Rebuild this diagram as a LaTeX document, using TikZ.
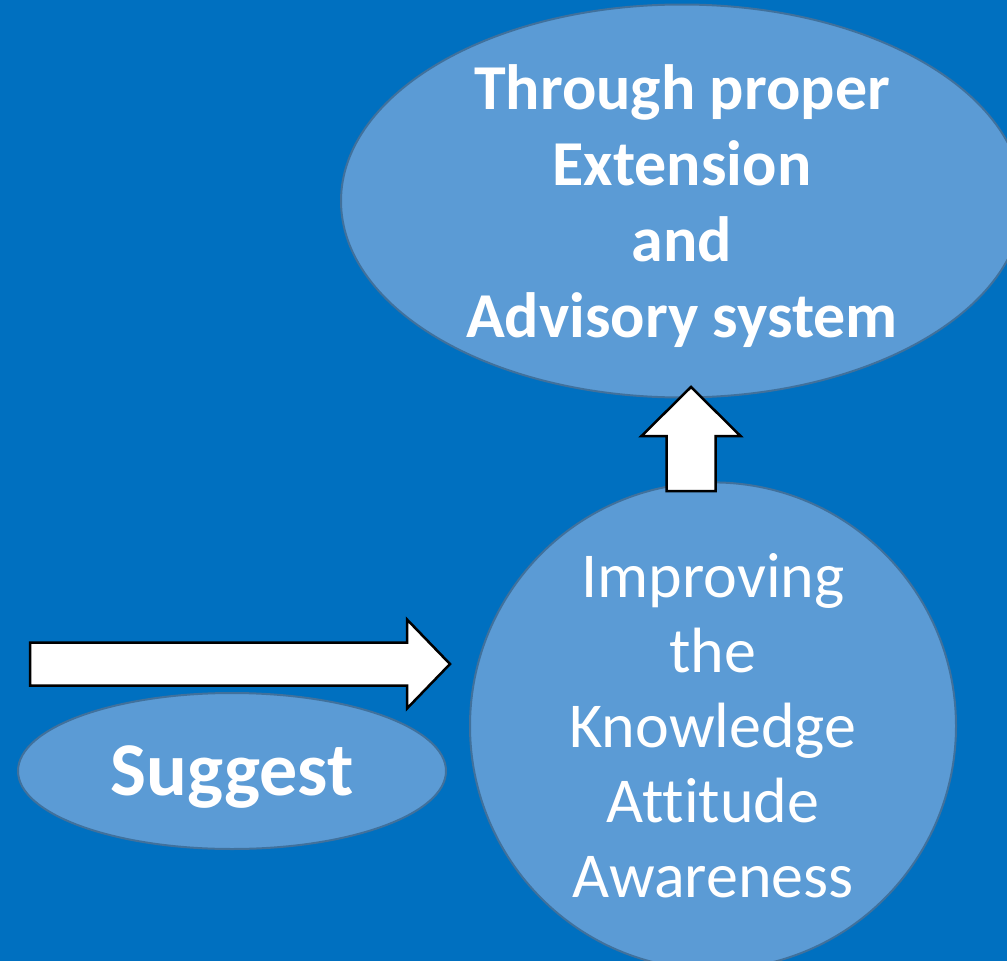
\documentclass[tikz,border=0pt]{standalone}
\usepackage{fontspec}
\setmainfont{Carlito}[Ligatures=NoCommon]
\usepackage{xcolor}
\usepackage{tikz}
\usetikzlibrary{shapes.geometric}

\definecolor{sheet}{HTML}{0070C0}
\definecolor{bubblefill}{HTML}{5B9BD5}
\definecolor{bubblerim}{HTML}{41719C}

\begin{document}
\begin{tikzpicture}[x=1pt,y=-1pt,
 bubble/.style={ellipse,draw=bubblerim,line width=2pt,fill=bubblefill,text=white,inner sep=0pt,align=center},
 blockarrow/.style={draw=black,line width=2.5pt,fill=white,line join=miter}]

\fill[sheet] (0,0) rectangle (1007,961);
\useasboundingbox (0,0) rectangle (1007,961);

\node[bubble,minimum width=682,minimum height=393,text depth=0pt,font=\fontsize{64}{76}\selectfont\bfseries] (through) at (682,201)
 {Through proper\\Extension\\and\\Advisory system};
\node[bubble,minimum width=486,minimum height=468,font=\fontsize{64}{75}\selectfont] (improving) at (713,726)
 {Improving\\the\\Knowledge\\Attitude\\Awareness};
\node[bubble,minimum width=428,minimum height=156,text depth=0pt,font=\fontsize{76}{90}\selectfont\bfseries] (suggest) at (232,771)
 {Suggest};

\coordinate (tail) at (30,664);
\coordinate (lift) at (691,491);

\begin{scope}[shift={(tail)}] %suggest -> improving
 \def\l{377} \def\w{21.5} \def\hw{44.5} \def\hl{43}
 \draw[blockarrow] (0,-\w) -- (\l,-\w) -- (\l,-\hw) -- (\l+\hl,0) -- (\l,\hw) -- (\l,\w) -- (0,\w) -- cycle;
\end{scope}

\begin{scope}[shift={(lift)},rotate=90] %improving -> through
 \def\l{55} \def\w{24.5} \def\hw{49.5} \def\hl{49}
 \draw[blockarrow] (0,-\w) -- (\l,-\w) -- (\l,-\hw) -- (\l+\hl,0) -- (\l,\hw) -- (\l,\w) -- (0,\w) -- cycle;
\end{scope}

\end{tikzpicture}
\end{document}
